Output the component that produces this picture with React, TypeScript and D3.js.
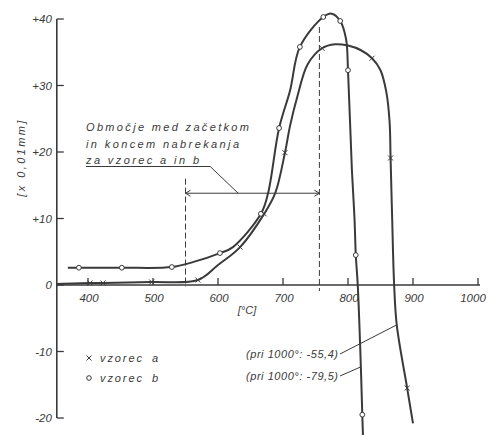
import React from 'react'
import * as d3 from 'd3'

// axis ticks
const tempTicks = [400, 500, 600, 700, 800, 900, 1000]
const valueTicks = [40, 30, 20, 10, 0, -10, -20]
const valueTickLabels = ['+40', '+30', '+20', '+10', '0', '-10', '-20']

// vzorec a  (x)  [temperature, elongation x0,01mm]
const curveA: [number, number][] = [
  [352, 0.15], [403, 0.3], [423, 0.3], [498, 0.45], [569, 0.75], [600, 3],
  [634, 5.7], [671, 10.7], [688, 13.8], [703, 19.9], [711, 24], [722, 28.3],
  [738, 33.2], [760, 35.6], [780, 36.2], [800, 36], [820, 35.3], [837, 34.1],
  [850, 32.3], [859, 29], [864, 24.5], [865.5, 19.1], [868, 9.8], [871, 0],
  [875, -6], [891, -15.5], [900, -20.8],
]
const markersA: [number, number][] = [
  [403, 0.3], [423, 0.3], [498, 0.45], [569, 0.75], [634, 5.7], [671, 10.7],
  [703, 19.9], [760, 35.6], [837, 34.1], [865.5, 19.1], [891, -15.5],
]

// vzorec b  (o)
const curveB: [number, number][] = [
  [369, 2.6], [386, 2.6], [452, 2.6], [529, 2.7], [560, 3.4], [603, 4.8],
  [623, 5.7], [666, 10.7], [677, 13.8], [694, 23.6], [711, 29.3], [726, 35.8],
  [762, 40.3], [775, 40.8], [788, 39.7], [797, 37], [800, 32.3], [806, 17.3],
  [810, 10], [812, 4.5], [815, 0], [819, -10], [822, -19.5], [823, -22.6],
]
const markersB: [number, number][] = [
  [386, 2.6], [452, 2.6], [529, 2.7], [603, 4.8], [666, 10.7], [694, 23.6],
  [726, 35.8], [762, 40.3], [788, 39.7], [800, 32.3], [812, 4.5], [822, -19.5],
]

// region between start and end of swelling
const rangeStart = 550
const rangeEnd = 756
const rangeLevel = 13.8
const rangeTopStart = 16
const rangeTopEnd = 38.8

const noteLines = ['Območje med začetkom', 'in koncem nabrekanja', 'za vzorec a in b']
const noteWidths = [163, 153, 113]
const endNotes = ['(pri 1000°: -55,4)', '(pri 1000°: -79,5)']
// where the end note leaders touch the curves
const endNoteTargets: [number, number][] = [[875, -6], [820, -12.3]]

const ink = '#3a3a3a'
const font = '"Liberation Sans", Arial, sans-serif'

const App: React.FC = () => {
  const W = 489
  const H = 435
  const x = d3.scaleLinear().domain([600, 1000]).range([218, 478])
  const y = d3.scaleLinear().domain([0, 40]).range([285, 19])

  const line = d3
    .line<[number, number]>()
    .x(d => x(d[0]))
    .y(d => y(d[1]))
    .curve(d3.curveCatmullRom.alpha(0.5))

  const x0 = x(352)
  const txt = { fontFamily: font, fontStyle: 'italic', fill: ink } as any

  const arrowY = y(rangeLevel)
  const xs = x(rangeStart)
  const xe = x(rangeEnd)

  return (
    <svg width={W} height={H} style={{ position: 'absolute', left: 0, top: 0, background: '#fff' }}>
      {/* axes */}
      <line x1={x0} x2={x0} y1={y(40)} y2={y(-20)} stroke={ink} strokeWidth={1.6} />
      <line x1={x0} x2={x(1000) + 2} y1={y(0)} y2={y(0)} stroke={ink} strokeWidth={1.6} />
      {valueTicks.map((v, i) => (
        <g key={v}>
          <line x1={x0} x2={x0 + 7} y1={y(v)} y2={y(v)} stroke={ink} strokeWidth={1.3} />
          <text x={x0 - 5} y={y(v) + 4} textAnchor="end" fontSize={11.5} style={txt}>
            {valueTickLabels[i]}
          </text>
        </g>
      ))}
      {tempTicks.map(t => (
        <g key={t}>
          <line x1={x(t)} x2={x(t)} y1={y(0)} y2={y(0) - 7} stroke={ink} strokeWidth={1.3} />
          <text x={Math.min(x(t) + 1, W - 16)} y={y(0) + 17} textAnchor="middle" fontSize={11.5} style={txt}>
            {t}
          </text>
        </g>
      ))}
      <text x={247} y={314} textAnchor="middle" fontSize={11} style={txt}>
        [°C]
      </text>
      <text
        transform={`translate(25,${y(19)}) rotate(-90)`}
        textAnchor="middle"
        fontSize={11}
        textLength={76}
        lengthAdjust="spacing"
        style={txt}
      >
        [x 0,01mm]
      </text>

      {/* swelling range */}
      <line x1={xs} x2={xs} y1={y(rangeTopStart)} y2={y(0) + 2} stroke={ink} strokeWidth={1} strokeDasharray="6,3" />
      <line x1={xe} x2={xe} y1={y(rangeTopEnd)} y2={y(0) + 6} stroke={ink} strokeWidth={1} strokeDasharray="6,3" />
      <line x1={xs} x2={xe} y1={arrowY} y2={arrowY} stroke={ink} strokeWidth={1} />
      <path d={`M${xs + 5},${arrowY - 3}L${xs},${arrowY}L${xs + 5},${arrowY + 3}`} fill="none" stroke={ink} strokeWidth={1} />
      <path d={`M${xe - 5},${arrowY - 3}L${xe},${arrowY}L${xe - 5},${arrowY + 3}`} fill="none" stroke={ink} strokeWidth={1} />

      {noteLines.map((s, i) => (
        <text key={s} x={86} y={131 + i * 16.5} fontSize={11} textLength={noteWidths[i]} lengthAdjust="spacing" style={txt}>
          {s}
        </text>
      ))}
      <path
        d={`M86,166.5L${x(588)},166.5L${x(631)},${arrowY}`}
        fill="none"
        stroke={ink}
        strokeWidth={1}
      />

      {/* curves */}
      <path d={line(curveB) || ''} fill="none" stroke={ink} strokeWidth={2} />
      <path d={line(curveA) || ''} fill="none" stroke={ink} strokeWidth={2} />
      {markersB.map(([t, v], i) => (
        <circle key={i} cx={x(t)} cy={y(v)} r={2.4} fill="#fff" stroke={ink} strokeWidth={1} />
      ))}
      {markersA.map(([t, v], i) => (
        <path
          key={i}
          d={`M${x(t) - 2.5},${y(v) - 2.5}L${x(t) + 2.5},${y(v) + 2.5}M${x(t) - 2.5},${y(v) + 2.5}L${x(t) + 2.5},${y(v) - 2.5}`}
          stroke={ink}
          strokeWidth={1}
        />
      ))}

      {/* legend */}
      <path d="M86.5,355.5L91.5,360.5M86.5,360.5L91.5,355.5" stroke={ink} strokeWidth={1} />
      <text x={100} y={362} fontSize={11} textLength={42} lengthAdjust="spacing" style={txt}>vzorec</text>
      <text x={152} y={362} fontSize={11} style={txt}>a</text>
      <circle cx={89} cy={378} r={2.3} fill="#fff" stroke={ink} strokeWidth={1} />
      <text x={100} y={382} fontSize={11} textLength={42} lengthAdjust="spacing" style={txt}>vzorec</text>
      <text x={152} y={382} fontSize={11} style={txt}>b</text>

      {/* end notes */}
      {endNotes.map((s, i) => (
        <g key={s}>
          <text x={246} y={358 + i * 22} fontSize={11} textLength={92} lengthAdjust="spacing" style={txt}>
            {s}
          </text>
          <line
            x1={340}
            y1={354 + i * 22}
            x2={x(endNoteTargets[i][0])}
            y2={y(endNoteTargets[i][1])}
            stroke={ink}
            strokeWidth={1}
          />
        </g>
      ))}
    </svg>
  )
}

export default App
